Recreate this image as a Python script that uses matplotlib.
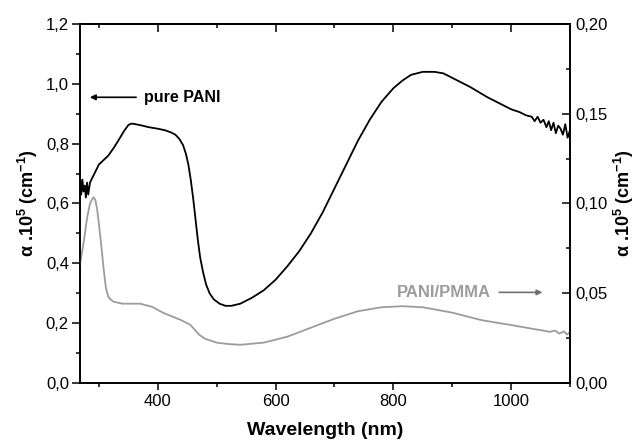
import numpy as np
import matplotlib
matplotlib.use("Agg")
import matplotlib.pyplot as plt
from matplotlib.ticker import MultipleLocator, FuncFormatter

plt.rcParams["font.family"] = ["Liberation Sans", "DejaVu Sans"]
plt.rcParams["mathtext.fontset"] = "custom"
plt.rcParams["mathtext.rm"] = "Liberation Sans"
plt.rcParams["mathtext.bf"] = "Liberation Sans:bold"

# pure PANI (left axis)
wl_pani = [268, 270, 272, 274, 276, 278, 280, 282, 285, 290, 295, 300, 308, 316, 325, 333, 342, 350,
           355, 360, 370, 385, 400, 412, 422, 430, 437, 443, 448, 452, 456, 460, 464, 468, 472,
           477, 482, 488, 495, 505, 515, 525, 540, 560, 580, 600, 620, 640, 660, 680, 700, 720,
           740, 760, 780, 800, 815, 830, 850, 870, 885, 900, 930, 960, 985, 1000, 1015, 1025,
           1035, 1040, 1045, 1050, 1055, 1060, 1064, 1068, 1072, 1076, 1080, 1084, 1088, 1092,
           1096, 1100]
a_pani = [0.69, 0.63, 0.68, 0.64, 0.66, 0.62, 0.67, 0.63, 0.67, 0.69, 0.71, 0.73, 0.745, 0.76, 0.785, 0.81, 0.84, 0.862,
          0.867, 0.866, 0.862, 0.855, 0.85, 0.845, 0.838, 0.83, 0.815, 0.795, 0.765, 0.73, 0.68, 0.62, 0.55, 0.48, 0.42,
          0.37, 0.33, 0.30, 0.28, 0.265, 0.258, 0.258, 0.265, 0.285, 0.31, 0.345, 0.39, 0.44, 0.50, 0.57, 0.65, 0.73,
          0.81, 0.88, 0.94, 0.985, 1.01, 1.03, 1.04, 1.04, 1.035, 1.02, 0.99, 0.955, 0.93, 0.915, 0.905, 0.895,
          0.89, 0.875, 0.89, 0.87, 0.88, 0.855, 0.875, 0.845, 0.87, 0.835, 0.86, 0.85, 0.83, 0.865,
          0.82, 0.845]

# PANI/PMMA (right axis)
wl_pmma = [268, 275, 280, 285, 288, 291, 294, 297, 300, 304, 308, 312, 316, 320, 325, 340, 370, 390, 410,
           440, 455, 462, 470, 480, 500, 520, 540, 580, 620, 660, 700, 740, 780, 815, 850,
           900, 950, 1000, 1040, 1055, 1065, 1075, 1082, 1090, 1095, 1100]
a_pmma = [0.066, 0.080, 0.092, 0.100, 0.102, 0.1035, 0.102, 0.097, 0.089, 0.077, 0.064, 0.053, 0.048, 0.0465, 0.0453, 0.0442, 0.0442, 0.0425, 0.039,
          0.035, 0.0325, 0.030, 0.027, 0.0247, 0.0225, 0.0217, 0.0213, 0.0225, 0.0258, 0.0308, 0.0358, 0.040, 0.0422, 0.0428, 0.0422,
          0.0392, 0.035, 0.0323, 0.030, 0.0292, 0.0285, 0.0292, 0.0275, 0.0288, 0.027, 0.0285]

fig = plt.figure(figsize=(6.4, 4.4), dpi=100)
ax = fig.add_axes([0.125, 0.1295, 0.7656, 0.816])
ax2 = ax.twinx()

ax.plot(wl_pani, a_pani, color="black", lw=1.3)
ax2.plot(wl_pmma, a_pmma, color="#9c9c9c", lw=1.3)

comma = lambda fmt: FuncFormatter(lambda v, p: (fmt % v).replace(".", ","))

ax.set_xlim(268, 1100)
ax.set_ylim(0, 1.2)
ax2.set_ylim(0, 0.2)
ax.xaxis.set_major_locator(MultipleLocator(200))
ax.xaxis.set_minor_locator(MultipleLocator(100))
ax.yaxis.set_major_locator(MultipleLocator(0.2))
ax.yaxis.set_minor_locator(MultipleLocator(0.1))
ax.yaxis.set_major_formatter(comma("%.1f"))
ax2.yaxis.set_major_locator(MultipleLocator(0.05))
ax2.yaxis.set_minor_locator(MultipleLocator(0.025))
ax2.yaxis.set_major_formatter(comma("%.2f"))

ax.tick_params(which="both", direction="out", labelsize=12, width=1.1)
ax.tick_params(axis="y", which="major", length=6, pad=2)
ax.tick_params(axis="y", which="minor", length=3)
ax.tick_params(axis="x", which="major", length=5, pad=3)
ax.tick_params(axis="x", which="minor", length=3)
ax2.tick_params(which="both", direction="in", labelsize=12, width=1.1, pad=4)
ax2.tick_params(which="major", length=6)
ax2.tick_params(which="minor", length=3)

top = ax.secondary_xaxis("top")
top.xaxis.set_major_locator(MultipleLocator(200))
top.xaxis.set_minor_locator(MultipleLocator(100))
top.tick_params(which="both", direction="in", labeltop=False, width=1.1)
top.tick_params(which="major", length=6)
top.tick_params(which="minor", length=3)

for a in (ax, ax2, top):
    for s in a.spines.values():
        s.set_linewidth(1.2)

ax.set_xlabel("Wavelength (nm)", fontsize=14, fontweight="bold", labelpad=9)
ylab = r"α .10$^{\mathbf{5}}$ (cm$^{\mathbf{-1}}$)"
ax.set_ylabel(ylab, fontsize=13, fontweight="bold", labelpad=4)
ax2.set_ylabel(ylab, fontsize=13, fontweight="bold", rotation=90, labelpad=3)

ax.annotate("", xy=(280, 0.955), xytext=(368, 0.955),
            arrowprops=dict(arrowstyle="-|>", color="black", lw=1.2, mutation_scale=8))
ax.text(377, 0.955, "pure PANI", fontsize=11.5, fontweight="bold", va="center", ha="left")

ax2.annotate("", xy=(1058, 0.0505), xytext=(975, 0.0505),
             arrowprops=dict(arrowstyle="-|>", color="#707070", lw=1.2, mutation_scale=8))
ax2.text(965, 0.0505, "PANI/PMMA", fontsize=12, fontweight="bold", va="center", ha="right",
         color="#9c9c9c")

fig.savefig("out.png", dpi=100)
